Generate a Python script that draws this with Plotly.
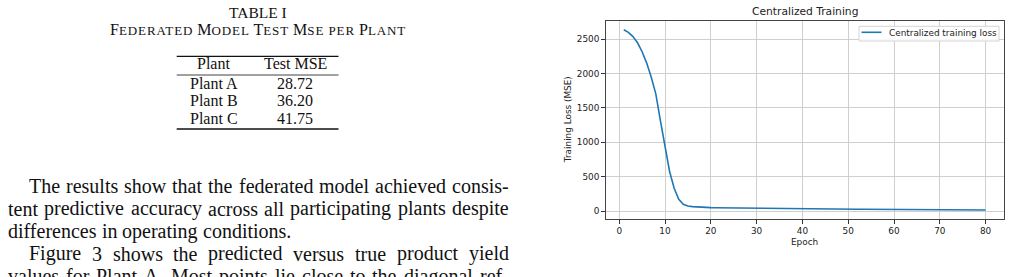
import plotly.graph_objects as go

# ---------------- data ----------------
epochs = list(range(1, 81))
loss = [2635, 2597, 2535, 2445, 2315, 2150, 1945, 1700, 1310, 925,
        575, 330, 170, 98, 74, 64, 58, 54, 51, 49,
        47, 46, 45, 44, 43, 42, 41, 40, 39, 38,
        37.5, 37, 36.5, 36, 35, 34.5, 34, 33, 32.5, 32,
        31.5, 31, 30.5, 30, 29.5, 29, 28.5, 28, 27.5, 27,
        26.5, 26, 25.5, 25, 24.5, 24, 23.5, 23, 22.5, 22,
        21.5, 21, 20.5, 20, 19.5, 19, 18.5, 18, 17.8, 17.5,
        17.2, 17, 16.7, 16.5, 16.2, 16, 15.7, 15.5, 15.2, 15]
x_ticks = [0, 10, 20, 30, 40, 50, 60, 70, 80]
y_ticks = [0, 500, 1000, 1500, 2000, 2500]

table_plants = ["Plant A", "Plant B", "Plant C"]
table_mse = ["28.72", "36.20", "41.75"]

body_lines = [
    "The results show that the federated model achieved consis-",
    "tent predictive accuracy across all participating plants despite",
    "differences in operating conditions.",
    "Figure 3 shows the predicted versus true product yield",
    "values for Plant A. Most points lie close to the diagonal ref-",
]

W, H = 1011, 277
def px(x):
    return x / W
def py(y):
    return 1 - y / H

SERIF = "Liberation Serif"
SANS = "DejaVu Sans"
BLUE = "#1f77b4"

fig = go.Figure()
fig.add_trace(go.Scatter(x=epochs, y=loss, mode="lines",
                         line=dict(color=BLUE, width=1.6),
                         name="Centralized training loss", showlegend=False))

# plot area in pixels
L, R, T, B = 605.7, 1003.7, 20.7, 219.0

fig.update_layout(
    width=W, height=H, margin=dict(l=0, r=0, t=0, b=0),
    paper_bgcolor="white", plot_bgcolor="white",
    xaxis=dict(domain=[px(L), px(R)], range=[-2.95, 83.95],
               tickvals=x_ticks, ticks="outside", ticklen=3.5, tickwidth=0.8,
               tickcolor="#333", showline=True, mirror=True, linecolor="#444",
               linewidth=1, showgrid=True, gridcolor="#cfcfcf", gridwidth=1,
               zeroline=False, tickfont=dict(family=SANS, size=8.9, color="#222")),
    yaxis=dict(domain=[py(B), py(T)], range=[-116, 2766],
               tickvals=y_ticks, ticks="outside", ticklen=3.5, tickwidth=0.8,
               tickcolor="#333", showline=True, mirror=True, linecolor="#444",
               linewidth=1, showgrid=True, gridcolor="#cfcfcf", gridwidth=1,
               zeroline=False, tickfont=dict(family=SANS, size=8.9, color="#222")),
    showlegend=False,
)

ann = []
shapes = []
# chart title & axis labels
ann.append(dict(text="Centralized Training", x=px((L + R) / 2), y=py(12), xref="paper", yref="paper",
                showarrow=False, xanchor="center", yanchor="middle",
                font=dict(family=SANS, size=10.7, color="#222")))
ann.append(dict(text="Epoch", x=px((L + R) / 2), y=py(242), xref="paper", yref="paper",
                showarrow=False, xanchor="center", yanchor="middle",
                font=dict(family=SANS, size=8.9, color="#222")))
ann.append(dict(text="Training Loss (MSE)", x=px(568.3), y=py((T + B) / 2), xref="paper", yref="paper",
                showarrow=False, xanchor="center", yanchor="middle", textangle=-90,
                font=dict(family=SANS, size=8.9, color="#222")))
# manual legend
shapes.append(dict(type="rect", xref="paper", yref="paper", x0=px(859), x1=px(999), y0=py(41), y1=py(26.3),
                   line=dict(color="#d4d4d4", width=1), fillcolor="rgba(255,255,255,0.85)", layer="above"))
shapes.append(dict(type="line", xref="paper", yref="paper", x0=px(861.5), x1=px(881.5), y0=py(32.3), y1=py(32.3),
                   line=dict(color=BLUE, width=1.6), layer="above"))
ann.append(dict(text="Centralized training loss", x=px(886.5), y=py(33), xref="paper", yref="paper",
                showarrow=False, xanchor="left", yanchor="middle",
                font=dict(family=SANS, size=8.9, color="#222")))

# ---------------- table ----------------
ann.append(dict(text="TABLE I", x=px(258), y=py(12.5), xref="paper", yref="paper",
                showarrow=False, xanchor="center", yanchor="middle",
                font=dict(family=SERIF, size=15.5, color="#111")))
sc = "<span style='font-size:13px;letter-spacing:0.9px'>%s</span>"
title2 = ("F" + sc % "EDERATED" + " M" + sc % "ODEL" + " T" + sc % "EST" + " M" + sc % "SE PER"
          + " P" + sc % "LANT")
ann.append(dict(text=title2, x=px(258), y=py(30), xref="paper", yref="paper",
                showarrow=False, xanchor="center", yanchor="middle",
                font=dict(family=SERIF, size=16, color="#111")))
for y0, wdt in [(56.3, 1.3), (75.0, 0.8), (129.0, 1.3)]:
    shapes.append(dict(type="line", xref="paper", yref="paper", x0=px(176.7), x1=px(338.5),
                       y0=py(y0), y1=py(y0), line=dict(color="#111", width=wdt)))
col1, col2 = 213.5, 295
ann.append(dict(text="Plant", x=px(col1), y=py(64), xref="paper", yref="paper", showarrow=False,
                xanchor="center", yanchor="middle", font=dict(family=SERIF, size=16, color="#111")))
ann.append(dict(text="Test MSE", x=px(col2), y=py(64), xref="paper", yref="paper", showarrow=False,
                xanchor="center", yanchor="middle", font=dict(family=SERIF, size=16, color="#111")))
for i, (p, m) in enumerate(zip(table_plants, table_mse)):
    yy = 83 + i * 17.8
    ann.append(dict(text=p, x=px(col1), y=py(yy), xref="paper", yref="paper", showarrow=False,
                    xanchor="center", yanchor="middle", font=dict(family=SERIF, size=16, color="#111")))
    ann.append(dict(text=m, x=px(col2), y=py(yy), xref="paper", yref="paper", showarrow=False,
                    xanchor="center", yanchor="middle", font=dict(family=SERIF, size=16, color="#111")))

# ---------------- body text (justified) ----------------
TW = {' ': 250, ',': 250, '-': 333, '.': 250, 'A': 722, 'B': 667, 'C': 667, 'D': 722, 'E': 611,
      'F': 556, 'M': 889, 'P': 556, 'T': 611, 'a': 444, 'b': 500, 'c': 444, 'd': 500, 'e': 444,
      'f': 333, 'g': 500, 'h': 500, 'i': 278, 'j': 278, 'k': 500, 'l': 278, 'm': 778, 'n': 500,
      'o': 500, 'p': 500, 'q': 500, 'r': 333, 's': 389, 't': 278, 'u': 500, 'v': 500, 'w': 722,
      'x': 500, 'y': 500, 'z': 444}
FS = 20
def wwidth(s):
    return sum(TW.get(c, 500) for c in s) * FS / 1000.0

line_y = [186, 208.5, 231, 253.5, 276]
starts = [28, 7, 7, 28, 7]
justify = [True, True, False, True, True]
RIGHT = 507.5
for txt, yv, x0, jus in zip(body_lines, line_y, starts, justify):
    words = txt.split(" ")
    if jus:
        total = sum(wwidth(w) for w in words)
        gap = (RIGHT - x0 - total) / (len(words) - 1)
    else:
        gap = wwidth(" ")
    xc = x0
    for w in words:
        ann.append(dict(text=w, x=px(xc), y=py(yv), xref="paper", yref="paper", showarrow=False,
                        xanchor="left", yanchor="middle", borderpad=0,
                        font=dict(family=SERIF, size=FS, color="#111")))
        xc += wwidth(w) + gap

fig.update_layout(annotations=ann, shapes=shapes)
fig.write_html("out.html")
